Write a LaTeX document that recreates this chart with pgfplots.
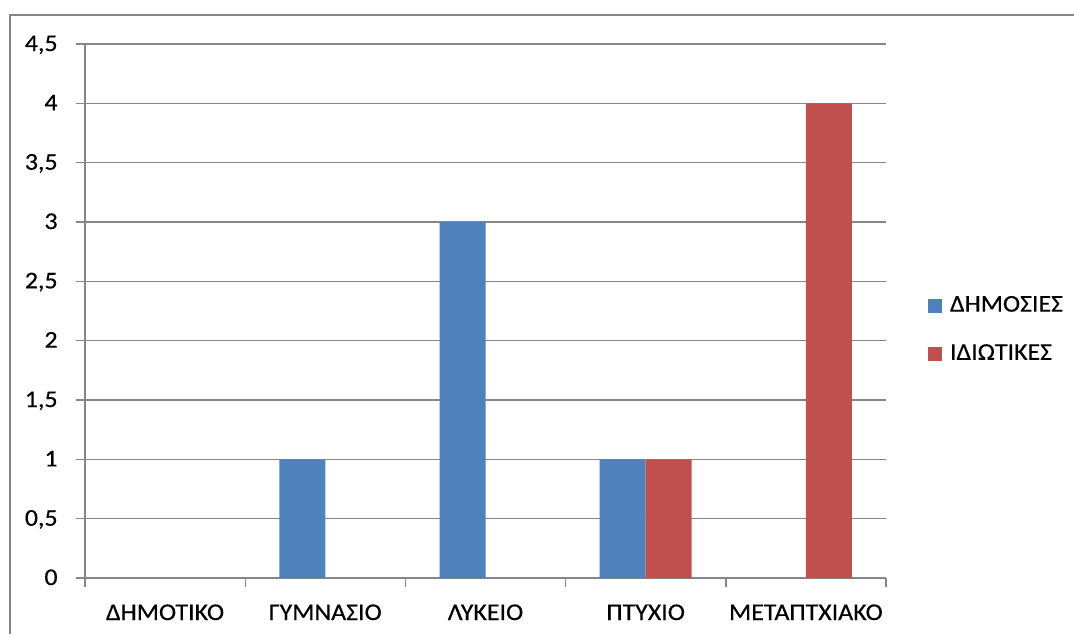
\documentclass[border=0pt]{standalone}
\usepackage{pgfplots}
\pgfplotsset{compat=1.18}
\usepackage{fontspec}
\setmainfont{Carlito}[FakeStretch=1.08, FakeBold=0.4]
\definecolor{gridgray}{HTML}{868686}
\definecolor{sblue}{HTML}{4F81BD}
\definecolor{sred}{HTML}{C0504D}
\begin{document}
\fontsize{12}{14}\selectfont
\begin{tikzpicture}[x=1pt,y=1pt]
\useasboundingbox (0,0) rectangle (537,317);
\draw[gridgray, line width=0.7pt] (5,0) -- (5,309.5) -- (537,309.5);
\begin{axis}[
  at={(42.5pt,28pt)}, anchor=south west,
  scale only axis, width=400.5pt, height=267pt,
  font=\fontsize{12}{14}\selectfont,
  ymin=0, ymax=4.5,
  ytick={0,0.5,1,1.5,2,2.5,3,3.5,4,4.5},
  xmin=-0.5, xmax=4.5,
  xtick={-0.5,0.5,1.5,2.5,3.5,4.5},
  xticklabels={},
  extra x ticks={0,1,2,3,4},
  extra x tick labels={ΔΗΜΟΤΙΚΟ,ΓΥΜΝΑΣΙΟ,ΛΥΚΕΙΟ,ΠΤΥΧΙΟ,ΜΕΤΑΠΤΧΙΑΚΟ},
  extra x tick style={major tick length=0pt, xticklabel style={anchor=base, yshift=-21pt}},
  axis lines*=left,
  ymajorgrids,
  grid style={gridgray, line width=0.7pt},
  axis line style={gridgray, line width=0.7pt},
  tick style={gridgray, line width=0.7pt},
  tick align=outside,
  major tick length=4.5pt,
  /pgf/number format/use comma,
  /pgf/number format/assume math mode=true,
  yticklabel style={anchor=base east, inner sep=0pt, xshift=-9pt, yshift=-3.5pt},
  ybar=0pt, bar width=0.287,
  legend style={at={(1.0445,0.465)}, anchor=west, draw=none, fill=none,
    row sep=10.5pt, font=\fontsize{12}{14}\selectfont},
  legend cell align=left,
  legend image code/.code={\fill[#1] (0pt,-3.5pt) rectangle (7pt,3.5pt); \path (9pt,0pt);},
]
\addplot[fill=sblue, draw=none] coordinates {(1,1) (2,3) (3,1)};
\addplot[fill=sred, draw=none] coordinates {(3,1) (4,4)};
\legend{ΔΗΜΟΣΙΕΣ,ΙΔΙΩΤΙΚΕΣ}
\end{axis}
\end{tikzpicture}
\end{document}
